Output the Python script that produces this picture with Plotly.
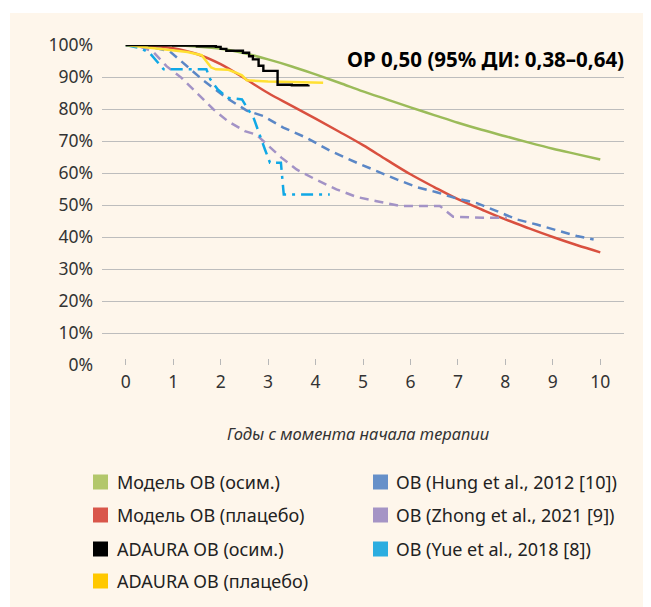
import plotly.graph_objects as go

# ---- data ----
years_model = [0, 0.5, 1, 1.5, 2, 2.5, 3, 3.5, 4, 4.5, 5, 5.5, 6, 6.5, 7, 7.5, 8, 8.5, 9, 9.5, 10]
model_osim = [100, 100, 99.9, 99.5, 98.8, 97.4, 95.5, 93.3, 90.8, 88.2, 85.5, 83.0, 80.5, 78.1, 75.7, 73.5, 71.5, 69.5, 67.6, 65.9, 64.2]
model_placebo = [100, 99.8, 99.0, 97.2, 94.0, 89.6, 85.0, 81.0, 77.0, 72.9, 68.7, 64.1, 59.6, 55.6, 51.8, 48.6, 45.5, 42.7, 40.0, 37.5, 35.2]

adaura_osim_x = [0, 0.5, 1.0, 1.5, 1.9, 2.0, 2.12, 2.47, 2.6, 2.68, 2.8, 2.9, 3.14, 3.2, 3.5, 3.85]
adaura_osim_y = [100, 99.9, 99.8, 99.6, 99.4, 98.8, 98.2, 97.6, 96.5, 95.5, 93.5, 91.9, 91.9, 87.6, 87.4, 87.6]

adaura_plac_x = [0, 0.3, 0.6, 1.0, 1.3, 1.6, 1.7, 1.8, 1.9, 2.15, 2.3, 2.45, 2.55, 3.0, 3.5, 4.16]
adaura_plac_y = [100, 99.5, 99.0, 98.3, 97.8, 96.8, 95.0, 93.0, 92.4, 92.3, 91.5, 90.5, 89.0, 88.6, 88.4, 88.2]

hung_x = [0, 0.5, 0.93, 1.2, 1.63, 2.12, 2.55, 2.9, 3.32, 3.81, 4.3, 4.87, 5.29, 5.71, 6.13, 6.55, 6.98, 7.4, 7.82, 8.24, 8.66, 9.09, 9.51, 9.86]
hung_y = [100, 99.5, 98.0, 94.5, 89.0, 83.5, 79.5, 77.8, 74.2, 71.0, 67.0, 63.2, 60.5, 58.0, 55.6, 54.0, 52.0, 50.6, 48.1, 45.5, 43.9, 42.1, 40.3, 39.2]

zhong_x = [0, 0.3, 0.57, 0.86, 1.17, 1.46, 1.6, 1.84, 2.15, 2.51, 2.75, 3.04, 3.28, 3.6, 4.0, 4.44, 4.87, 5.29, 5.78, 6.62, 6.9, 7.53, 8.03]
zhong_y = [100, 99.5, 98.0, 93.4, 89.8, 85.6, 83.5, 80.0, 76.2, 73.1, 72.0, 68.0, 64.8, 61.1, 58.0, 54.9, 52.5, 51.2, 49.7, 49.7, 46.3, 46.0, 46.0]

yue_x = [0, 0.3, 0.5, 0.8, 1.7, 1.78, 1.94, 2.15, 2.45, 2.6, 2.7, 2.93, 3.04, 3.27, 3.33, 4.3]
yue_y = [100, 99.0, 97.6, 92.4, 92.4, 89.3, 86.1, 83.5, 83.0, 79.4, 77.0, 67.5, 63.2, 63.2, 53.3, 53.3]

x_ticks = list(range(0, 11))
y_ticks = list(range(0, 101, 10))
y_tick_labels = [f"{v}%" for v in y_ticks]

legend_names = ["Модель ОВ (осим.)", "Модель ОВ (плацебо)", "ADAURA ОВ (осим.)", "ADAURA ОВ (плацебо)",
                "ОВ (Hung et al., 2012 [10])", "ОВ (Zhong et al., 2021 [9])", "ОВ (Yue et al., 2018 [8])"]
legend_colors = ["#b3c76b", "#d9564a", "#000000", "#ffc800", "#6690c9", "#a594c5", "#2badE0"]

hr_text = "ОР 0,50 (95% ДИ: 0,38–0,64)"
x_title = "Годы с момента начала терапии"

FONT = "Noto Sans"
# page offset (body margin) compensation
OX, OY = 8, 7
L, T, PW, PH = 102 - OX, 44 - OY, 522, 320
W, H = 651, 607


def px_x(px):
    return (px - OX - L) / PW


def px_y(py):
    return (T + PH - (py - OY)) / PH


fig = go.Figure()

fig.add_trace(go.Scatter(x=years_model, y=model_osim, mode="lines", line=dict(color="#9bbb59", width=2.5, shape="spline")))
fig.add_trace(go.Scatter(x=years_model, y=model_placebo, mode="lines", line=dict(color="#d9503f", width=2.5, shape="spline")))
fig.add_trace(go.Scatter(x=hung_x, y=hung_y, mode="lines", line=dict(color="#5b87c6", width=2.5, dash="9px,6px")))
fig.add_trace(go.Scatter(x=zhong_x, y=zhong_y, mode="lines", line=dict(color="#a393c6", width=2.5, dash="9px,6px")))
fig.add_trace(go.Scatter(x=yue_x, y=yue_y, mode="lines", line=dict(color="#10a8e6", width=2.5, dash="12px,6px,3px,6px")))
fig.add_trace(go.Scatter(x=adaura_plac_x, y=adaura_plac_y, mode="lines", line=dict(color="#ffe033", width=2.5)))
fig.add_trace(go.Scatter(x=adaura_osim_x, y=adaura_osim_y, mode="lines", line=dict(color="#000000", width=2.4, shape="hv")))

# background panel
shapes = [dict(type="rect", xref="paper", yref="paper", x0=px_x(10), x1=px_x(700), y0=px_y(700), y1=px_y(12),
               fillcolor="#fef6eb", line=dict(width=0), layer="below")]

annotations = [
    dict(text=f"<b>{hr_text}</b>", xref="paper", yref="paper", x=px_x(626), y=px_y(58), xanchor="right",
         yanchor="middle", showarrow=False, font=dict(family=FONT, size=20.5, color="#000")),
    dict(text=f"<i>{x_title}</i>", xref="paper", yref="paper", x=px_x(358), y=px_y(432), xanchor="center",
         yanchor="middle", showarrow=False, font=dict(family=FONT, size=16.5, color="#333")),
]

# manual legend (two columns)
col_x_sq = [93, 373]
col_x_txt = [115, 394]
row_y = [481, 514, 548, 580]
positions = [(0, 0), (0, 1), (0, 2), (0, 3), (1, 0), (1, 1), (1, 2)]
for name, color, (c, r) in zip(legend_names, legend_colors, positions):
    px0 = col_x_sq[c]
    py = row_y[r]
    shapes.append(dict(type="rect", xref="paper", yref="paper",
                       x0=px_x(px0), x1=px_x(px0 + 15),
                       y0=px_y(py + 7.5), y1=px_y(py - 7.5),
                       fillcolor=color, line=dict(width=0)))
    annotations.append(dict(text=name, xref="paper", yref="paper", x=px_x(col_x_txt[c]),
                            y=px_y(py), xanchor="left", yanchor="middle", showarrow=False,
                            font=dict(family=FONT, size=18, color="#222")))

fig.update_layout(
    width=W, height=H,
    margin=dict(l=L, r=W - L - PW, t=T, b=H - T - PH),
    paper_bgcolor="#ffffff", plot_bgcolor="rgba(0,0,0,0)",
    showlegend=False,
    shapes=shapes, annotations=annotations,
    font=dict(family=FONT, size=18, color="#333"),
    xaxis=dict(range=[-0.5, 10.5], tickvals=x_ticks, showgrid=False, zeroline=False,
               showline=False, ticks="inside", ticklen=6, tickcolor="#b8b8b8", tickwidth=1,
               tickfont=dict(family=FONT, size=17.5, color="#333"), ticklabelstandoff=4),
    yaxis=dict(range=[0, 100], tickvals=y_ticks, ticktext=y_tick_labels, showgrid=True,
               gridcolor="#bdbdbd", gridwidth=1.3, zeroline=False, showline=False,
               tickfont=dict(family=FONT, size=17.5, color="#333"), ticklabelstandoff=8),
)

fig.write_html("out.html")
